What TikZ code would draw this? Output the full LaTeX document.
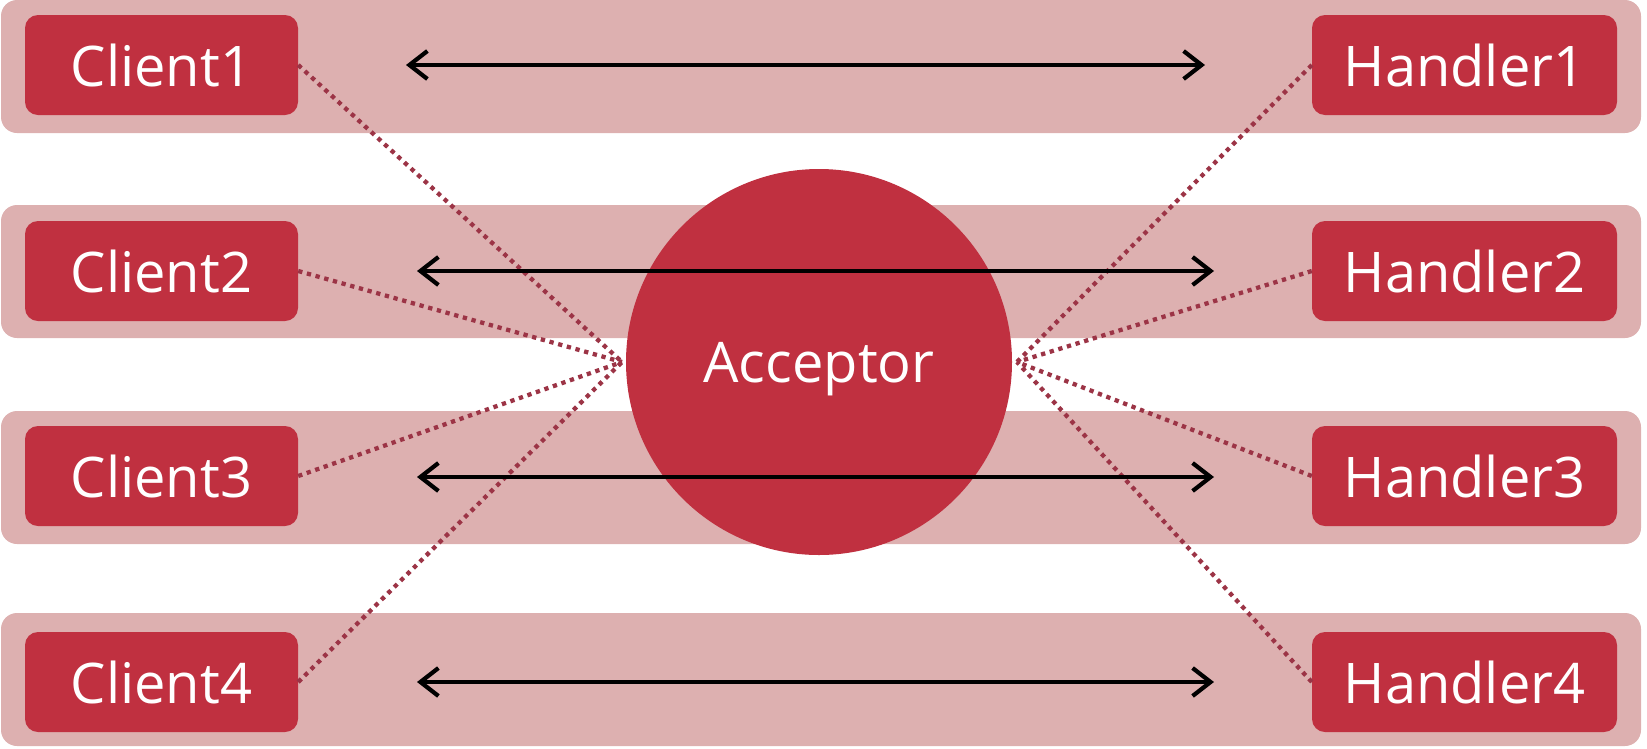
\documentclass[tikz,border=0pt]{standalone}
\usepackage{fontspec}
\setmainfont{Open Sans}
\usetikzlibrary{arrows.meta}
\definecolor{boxred}{RGB}{192,48,64}
\definecolor{bandpink}{RGB}{221,176,176}
\definecolor{dotred}{RGB}{156,52,70}
\tikzset{
  band/.style={fill=bandpink, draw=none, rounded corners=16pt},
  rbox/.style={fill=boxred, draw=none, rounded corners=13pt, text=white,
    minimum height=100pt, inner sep=0pt, font=\fontsize{56}{66}\selectfont},
  cbox/.style={rbox, minimum width=273pt},
  hbox/.style={rbox, minimum width=305pt},
  dotline/.style={draw=dotred, line width=4.3pt, dash pattern=on 4.3pt off 4.7pt},
  biarrow/.style={draw=black, line width=4.2pt, {Straight Barb[length=18pt,width=28pt,line width=4.2pt]}-{Straight Barb[length=18pt,width=28pt,line width=4.2pt]}},
}
\begin{document}
\begin{tikzpicture}[x=1pt,y=-1pt]
\useasboundingbox (0,0) rectangle (1647,748);
% bands
\foreach \t in {0,205,411,613} {
  \path[band] (1,\t) rectangle (1641,\t+133);
}
% nodes
\node[cbox] (c1) at (161.5,65) {Client1};
\node[cbox] (c2) at (161.5,271) {Client2};
\node[cbox] (c3) at (161.5,476) {Client3};
\node[cbox] (c4) at (161.5,682) {Client4};
\node[hbox] (h1) at (1464.5,65) {Handler1};
\node[hbox] (h2) at (1464.5,271) {Handler2};
\node[hbox] (h3) at (1464.5,476) {Handler3};
\node[hbox] (h4) at (1464.5,682) {Handler4};
\coordinate (cl) at (622,362);
\coordinate (cr) at (1017,362);
% dotted connectors
\foreach \n in {c1,c2,c3,c4} { \draw[dotline] (\n.east) -- (cl); }
\foreach \n in {h1,h2,h3,h4} { \draw[dotline] (\n.west) -- (cr); }
% acceptor
\node[circle, fill=boxred, minimum size=386pt, inner sep=0pt, text=white,
  text depth=0pt, font=\fontsize{56}{66}\selectfont] (acc) at (819,362) {Acceptor};
% arrows
\coordinate (a1l) at (406,65);  \coordinate (a1r) at (1205,65);
\coordinate (a2l) at (417,271); \coordinate (a2r) at (1214,271);
\coordinate (a3l) at (417,477); \coordinate (a3r) at (1214,477);
\coordinate (a4l) at (417,682); \coordinate (a4r) at (1214,682);
\draw[biarrow] (a1l) -- (a1r);
\draw[biarrow] (a2l) -- (a2r);
\draw[biarrow] (a3l) -- (a3r);
\draw[biarrow] (a4l) -- (a4r);
\end{tikzpicture}
\end{document}
